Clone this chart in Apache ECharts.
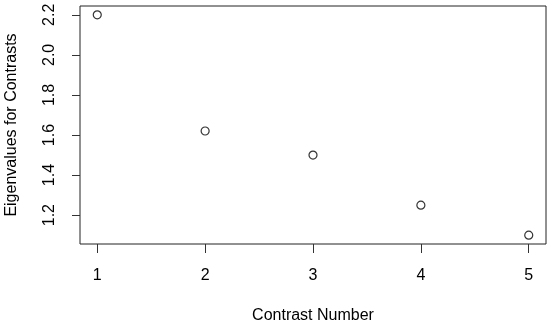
<!DOCTYPE html>
<html>
<head>
<meta charset="utf-8">
<script src="https://cdn.jsdelivr.net/npm/echarts@6/dist/echarts.min.js"></script>
<style>
  html, body { margin: 0; padding: 0; background: #fff; }
  #chart { width: 550px; height: 325px; }
</style>
</head>
<body>
<div id="chart"></div>
<script>
var contrastNumbers = [1, 2, 3, 4, 5];
var eigenvalues = [2.2, 1.62, 1.5, 1.25, 1.1];
var xTicks = [1, 2, 3, 4, 5];
var yTicks = [1.2, 1.4, 1.6, 1.8, 2.0, 2.2];

var fontFam = 'Liberation Sans, Arial, sans-serif';
var dom = document.getElementById("chart");
var myChart = echarts.init(dom);

var points = contrastNumbers.map(function (x, i) { return [x, eigenvalues[i]]; });

option = {
    animation: false,
    grid: {
        left: 80,
        right: 4,
        top: 6,
        bottom: 81,
        outerBoundsMode: 'none',
        containLabel: false,
        show: true,
        borderColor: '#222',
        borderWidth: 1,
        backgroundColor: 'transparent'
    },
    xAxis: {
        type: 'value',
        min: 0.84,
        max: 5.16,
        name: 'Contrast Number',
        nameLocation: 'middle',
        nameGap: 64,
        nameTextStyle: { fontFamily: fontFam, fontSize: 16, color: '#000' },
        axisLine: { show: false },
        splitLine: { show: false },
        axisTick: {
            show: true,
            customValues: xTicks,
            length: 9,
            lineStyle: { color: '#333', width: 1 }
        },
        axisLabel: {
            customValues: xTicks,
            margin: 24,
            fontFamily: fontFam,
            fontSize: 16,
            color: '#000'
        }
    },
    yAxis: {
        type: 'value',
        min: 1.056,
        max: 2.244,
        name: 'Eigenvalues for Contrasts',
        nameLocation: 'middle',
        nameGap: 60,
        nameTextStyle: { fontFamily: fontFam, fontSize: 16, color: '#000' },
        axisLine: { show: false },
        splitLine: { show: false },
        axisTick: {
            show: true,
            customValues: yTicks,
            length: 8,
            lineStyle: { color: '#333', width: 1 }
        },
        axisLabel: {
            customValues: yTicks,
            rotate: 90,
            margin: 22,
            fontFamily: fontFam,
            fontSize: 16,
            color: '#000',
            formatter: function (v) { return v.toFixed(1); }
        }
    },
    series: [
        {
            type: 'scatter',
            data: points,
            symbol: 'circle',
            symbolSize: 8,
            itemStyle: {
                color: 'rgba(255,255,255,0)',
                borderColor: '#000',
                borderWidth: 1.2
            }
        }
    ]
};

if (option && typeof option === "object") {
    myChart.setOption(option, true);
}
</script>
</body>
</html>
